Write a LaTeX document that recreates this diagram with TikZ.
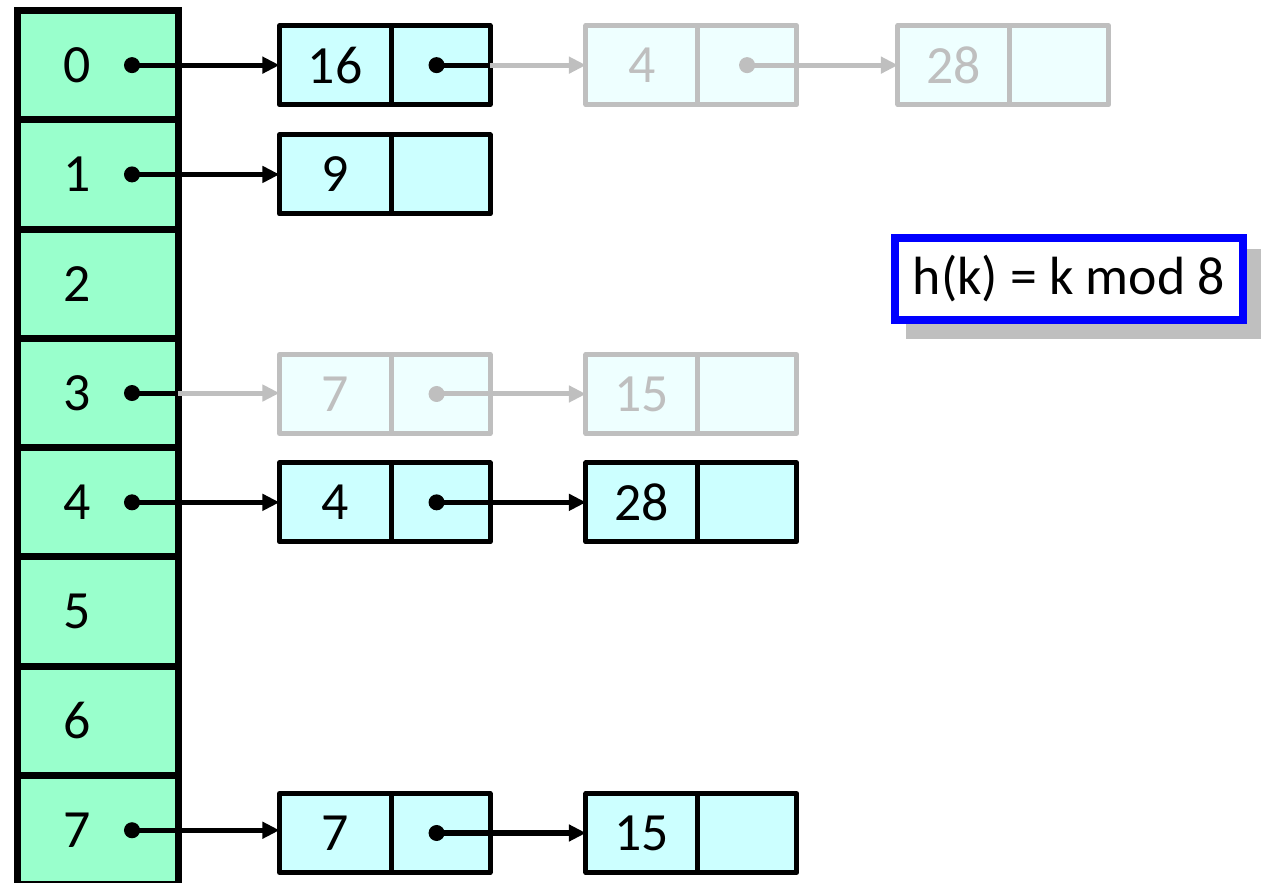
\documentclass[tikz,border=0pt]{standalone}
\usepackage{fontspec}
\setmainfont{Carlito}
\usetikzlibrary{arrows.meta,positioning,backgrounds}
\definecolor{mint}{RGB}{153,255,204}
\definecolor{aqua}{RGB}{204,255,255}
\definecolor{paleaqua}{RGB}{238,255,255}
\definecolor{fadegray}{RGB}{191,191,191}
\definecolor{hashblue}{RGB}{0,0,255}
\tikzset{
  slot/.style={draw=black, fill=mint, line width=0.07cm, minimum width=1.605cm, minimum height=1.093cm, outer sep=0pt, inner sep=0pt},
  keycell/.style={draw=black, fill=aqua, line width=0.05cm, line join=round, minimum width=1.115cm, minimum height=0.79cm, outer sep=0pt, inner sep=0pt},
  ptrcell/.style={keycell, minimum width=0.99cm},
  fadekey/.style={keycell, draw=fadegray, fill=paleaqua, text=fadegray},
  fadeptr/.style={fadekey, minimum width=0.99cm},
  dotmark/.style={circle, fill=black, inner sep=0pt, minimum size=0.16cm},
  fadedot/.style={dotmark, fill=fadegray},
  link/.style={-{Triangle[length=0.17cm, width=0.16cm]}, line width=0.05cm, black},
  fadelink/.style={link, fadegray},
}

\begin{document}
\begin{tikzpicture}[x=0.01cm, y=-0.01cm, font=\fontsize{15.3}{18}\selectfont]
\useasboundingbox (0,0) rectangle (1261,883);
% hash table
\node[slot] (t0) at (97.75,65.15) {};
\node[slot] (t1) at (97.75,174.45) {};
\node[slot] (t2) at (97.75,283.75) {};
\node[slot] (t3) at (97.75,393.05) {};
\node[slot] (t4) at (97.75,502.35) {};
\node[slot] (t5) at (97.75,611.65) {};
\node[slot] (t6) at (97.75,720.95) {};
\node[slot] (t7) at (97.75,830.25) {};
\node (l0) at (77,65.15) {0};
\node (l1) at (77,174.45) {1};
\node (l2) at (77,283.75) {2};
\node (l3) at (77,393.05) {3};
\node (l4) at (77,502.35) {4};
\node (l5) at (77,611.65) {5};
\node (l6) at (77,720.95) {6};
\node (l7) at (77,830.25) {7};
\node[dotmark] (d0) at (132,65.15) {};
\node[dotmark] (d1) at (132,174.45) {};
\node[dotmark] (d3) at (132,393.05) {};
\node[dotmark] (d4) at (132,502.35) {};
\node[dotmark] (d7) at (132,830.25) {};
% chains
\node[keycell] (k0a) at (335.25,65.15) {16};
\node[ptrcell, right=0pt of k0a] (p0a) {};
\node[fadekey] (k0b) at (641.75,65.15) {4};
\node[fadeptr, right=0pt of k0b] (p0b) {};
\node[fadekey] (k0c) at (953.75,65.15) {28};
\node[fadeptr, right=0pt of k0c] (p0c) {};
\node[keycell] (k1a) at (335.25,174.45) {9};
\node[ptrcell, right=0pt of k1a] (p1a) {};
\node[fadekey] (k3a) at (335.25,394) {7};
\node[fadeptr, right=0pt of k3a] (p3a) {};
\node[fadekey] (k3b) at (641.75,394) {15};
\node[fadeptr, right=0pt of k3b] (p3b) {};
\node[keycell] (k4a) at (335.25,502.35) {4};
\node[ptrcell, right=0pt of k4a] (p4a) {};
\node[keycell] (k4b) at (641.75,502.35) {28};
\node[ptrcell, right=0pt of k4b] (p4b) {};
\node[keycell] (k7a) at (335.25,833) {7};
\node[ptrcell, right=0pt of k7a] (p7a) {};
\node[keycell] (k7b) at (641.75,833) {15};
\node[ptrcell, right=0pt of k7b] (p7b) {};
\node[dotmark, xshift=-0.04cm] (e0a) at (p0a.center) {};
\node[fadedot] (e0b) at (p0b.center) {};
\node[fadedot, xshift=-0.04cm] (e3a) at (p3a.center) {};
\node[dotmark, xshift=-0.04cm] (e4a) at (p4a.center) {};
\node[dotmark, xshift=-0.04cm] (e7a) at (p7a.center) {};
% pointers
\draw[link] (d0.center) -- (k0a);
\draw[line width=0.05cm] (e0a.center) -- (p0a.east);
\draw[fadelink] (p0a.east) -- (k0b);
\draw[fadelink] (e0b.center) -- (k0c);
\draw[link] (d1.center) -- (k1a);
\draw[line width=0.05cm] (d3.center) -- (t3.east);
\draw[fadelink] (t3.east) -- (k3a.west |- t3.east);
\draw[fadelink] (e3a.center) -- (k3b);
\draw[link] (d4.center) -- (k4a);
\draw[link] (e4a.center) -- (k4b);
\draw[link] (d7.center) -- (k7a.west |- d7.center);
\draw[link] (e7a.center) -- (k7b);
% hash function
\node[draw=hashblue, fill=white, line width=0.08cm, outer sep=0.04cm, inner sep=0pt, minimum width=3.477cm, minimum height=0.82cm] (hk) at (1068.85,279) {h(k) = k mod 8};
\begin{scope}[on background layer]
\fill[fadegray] ([shift={(15,15)}]hk.north west) rectangle ([shift={(15,15)}]hk.south east);
\end{scope}
\end{tikzpicture}
\end{document}
